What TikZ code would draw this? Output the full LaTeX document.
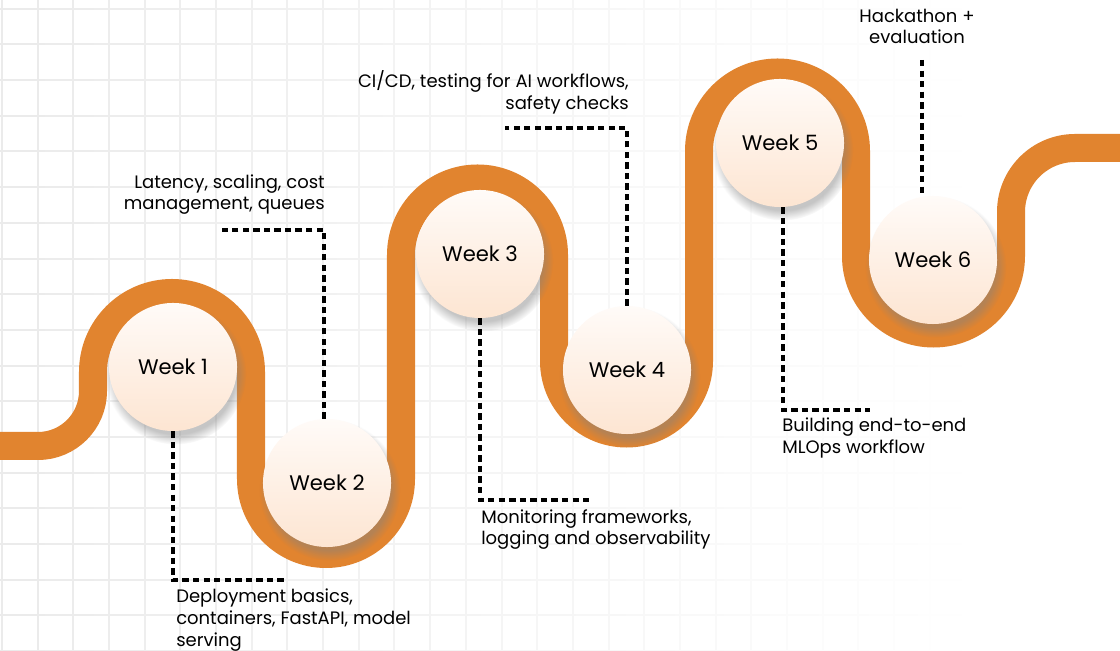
\documentclass[tikz,border=0pt]{standalone}
\usepackage{fontspec}
\setmainfont{Poppins}
\usetikzlibrary{positioning, shadows, fadings}
\definecolor{roadorange}{HTML}{E1842F}
\definecolor{weektop}{HTML}{FFFBF8}
\definecolor{weekbottom}{HTML}{FDE5D2}
\tikzfading[name=gridfade, left color=transparent!0, middle color=transparent!35, right color=transparent!100]

\begin{document}
\begin{tikzpicture}[x=0.025cm, y=0.025cm,
  week/.style={circle, minimum size=3.2cm, inner sep=0pt, top color=weektop, bottom color=weekbottom,
    circular drop shadow={shadow xshift=0.06cm, shadow yshift=-0.16cm, opacity=0.45},
    font=\fontsize{15}{17}\selectfont},
  topic/.style={inner sep=0pt, align=left, font=\fontsize{12.8}{15.3}\selectfont},
  dotline/.style={line width=2.6pt, dash pattern=on 4.5pt off 3pt}]
% Background
\useasboundingbox (0,0) rectangle (1120,651);
\fill[white] (0,0) rectangle (1120,651);
\draw[black!8, line width=1.4pt, path fading=gridfade, xshift=0.05cm] (-2,0) grid[step=35.7] (960,651);
% Road
\draw[roadorange, line width=0.7cm] (0,205) -- (38,205) arc(-90:0:55) -- (93,279)
  arc(180:0:79) -- (251,172) arc(180:360:75) -- (401,396)
  arc(180:0:76.5) -- (554,290) arc(180:360:72.5) -- (699,500)
  arc(180:0:78.5) -- (856,395) arc(180:360:77.5) -- (1011,439)
  arc(180:90:64) -- (1120,503);
% Weeks
\node[week] (w1) at (173,284) {Week 1};
\node[week] (w2) at (327,168) {Week 2};
\node[week] (w3) at (480,397) {Week 3};
\node[week] (w4) at (627,281) {Week 4};
\node[week] (w5) at (780,508) {Week 5};
\node[week] (w6) at (933,391) {Week 6};
% Connectors
\coordinate (c1) at (285,71);
\coordinate (c2) at (218,421);
\coordinate (c3) at (592,151);
\coordinate (c4) at (505,523);
\coordinate (c5) at (870,241);
\coordinate (c6) at (922,591);
\draw[dotline] (w1.south) |- (c1);
\draw[dotline] (w2.north) ++(-3,0) |- (c2);
\draw[dotline] (w3.south) |- (c3);
\draw[dotline] (w4.north) |- (c4);
\draw[dotline] (w5.south) ++(3,0) |- (c5);
\draw[dotline] (c6) -- (c6 |- w6.north);
% Topics
\node[topic, anchor=north west] (t1) at (176,62) {Deployment basics,\\containers, FastAPI, model\\serving};
\node[topic, anchor=south east, align=right] (t2) at (325,436) {Latency, scaling, cost\\management, queues};
\node[topic, anchor=north west] (t3) at (481,142) {Monitoring frameworks,\\logging and observability};
\node[topic, anchor=south east, align=right] (t4) at (629,537) {CI/CD, testing for AI workflows,\\safety checks};
\node[topic, anchor=north west] (t5) at (782,233) {Building end-to-end\\MLOps workflow};
\node[topic, anchor=south, align=center] (t6) at (917,607) {Hackathon +\\evaluation};
\end{tikzpicture}
\end{document}
